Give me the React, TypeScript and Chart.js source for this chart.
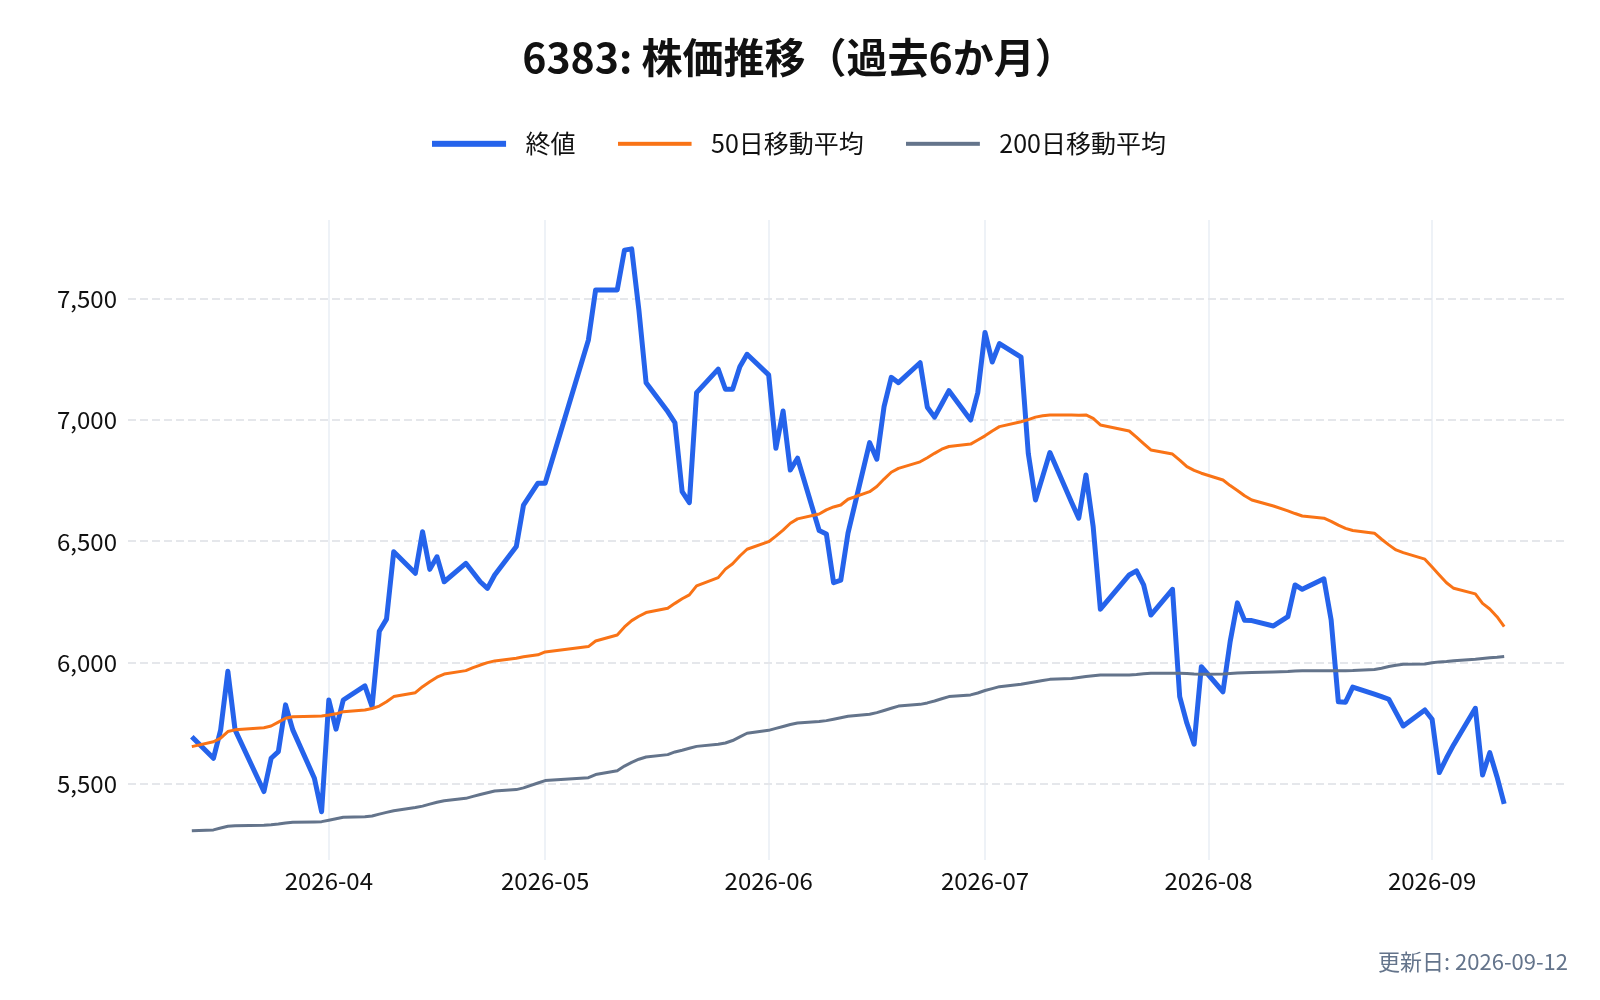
import { useEffect, useRef } from 'react';
import { Chart, registerables } from 'chart.js';

Chart.register(...registerables);

const titleText = '6383: 株価推移（過去6か月）';
const updatedText = '更新日: 2026-09-12';
const seriesLabels = ['終値', '50日移動平均', '200日移動平均'];
const seriesColors = ['#2563eb', '#f97316', '#64748b'];

const dates = [
  '2026-03-13', '2026-03-16', '2026-03-17', '2026-03-18', '2026-03-19', '2026-03-23', '2026-03-24', '2026-03-25', '2026-03-26', '2026-03-27', '2026-03-30', '2026-03-31',
  '2026-04-01', '2026-04-02', '2026-04-03', '2026-04-06', '2026-04-07', '2026-04-08', '2026-04-09', '2026-04-10', '2026-04-13', '2026-04-14', '2026-04-15', '2026-04-16', '2026-04-17', '2026-04-20', '2026-04-21', '2026-04-22', '2026-04-23', '2026-04-24', '2026-04-27', '2026-04-28', '2026-04-30',
  '2026-05-01', '2026-05-07', '2026-05-08', '2026-05-11', '2026-05-12', '2026-05-13', '2026-05-14', '2026-05-15', '2026-05-18', '2026-05-19', '2026-05-20', '2026-05-21', '2026-05-22', '2026-05-25', '2026-05-26', '2026-05-27', '2026-05-28', '2026-05-29',
  '2026-06-01', '2026-06-02', '2026-06-03', '2026-06-04', '2026-06-05', '2026-06-08', '2026-06-09', '2026-06-10', '2026-06-11', '2026-06-12', '2026-06-15', '2026-06-16', '2026-06-17', '2026-06-18', '2026-06-19', '2026-06-22', '2026-06-23', '2026-06-24', '2026-06-25', '2026-06-26', '2026-06-29', '2026-06-30',
  '2026-07-01', '2026-07-02', '2026-07-03', '2026-07-06', '2026-07-07', '2026-07-08', '2026-07-09', '2026-07-10', '2026-07-13', '2026-07-14', '2026-07-15', '2026-07-16', '2026-07-17', '2026-07-21', '2026-07-22', '2026-07-23', '2026-07-24', '2026-07-27', '2026-07-28', '2026-07-29', '2026-07-30', '2026-07-31',
  '2026-08-03', '2026-08-04', '2026-08-05', '2026-08-06', '2026-08-07', '2026-08-10', '2026-08-12', '2026-08-13', '2026-08-14', '2026-08-17', '2026-08-18', '2026-08-19', '2026-08-20', '2026-08-21', '2026-08-24', '2026-08-25', '2026-08-26', '2026-08-27', '2026-08-28', '2026-08-31',
  '2026-09-01', '2026-09-02', '2026-09-03', '2026-09-04', '2026-09-07', '2026-09-08', '2026-09-09', '2026-09-10', '2026-09-11',
];

const closePrices = [
  5696, 5607, 5724, 5965, 5724, 5470, 5607, 5634, 5827, 5724, 5525, 5387,
  5847, 5727, 5847, 5905, 5820, 6130, 6180, 6458, 6369, 6540, 6385, 6437, 6334, 6410, 6372, 6334, 6307, 6362, 6479, 6650, 6740,
  6740, 7330, 7536, 7536, 7700, 7705, 7453, 7154, 7035, 6989, 6705, 6660, 7113, 7210, 7127, 7127, 7220, 7271,
  7186, 6884, 7037, 6794, 6843, 6545, 6531, 6330, 6341, 6534, 6907, 6839, 7055, 7176, 7154, 7236, 7053, 7012, 7066, 7121, 7000, 7113,
  7361, 7239, 7315, 7259, 6863, 6671, 6768, 6866, 6661, 6596, 6774, 6561, 6221, 6362, 6379, 6321, 6197, 6303, 5861, 5751, 5665, 5984,
  5881, 6088, 6247, 6175, 6174, 6152, 6190, 6321, 6303, 6346, 6177, 5840, 5838, 5900, 5871, 5861, 5850, 5795, 5740, 5806,
  5768, 5548, 5608, 5663, 5813, 5538, 5630, 5531, 5419,
];

const ma50 = [
  5655, 5675, 5690, 5717, 5724, 5733, 5740, 5756, 5772, 5778, 5780, 5781,
  5785, 5790, 5799, 5806, 5812, 5822, 5840, 5861, 5877, 5902, 5922, 5941, 5954, 5968, 5980, 5991, 6001, 6008, 6019, 6025, 6033,
  6045, 6067, 6090, 6115, 6148, 6174, 6192, 6207, 6225, 6245, 6264, 6280, 6317, 6351, 6386, 6408, 6440, 6468,
  6499, 6522, 6547, 6575, 6593, 6613, 6630, 6642, 6650, 6674, 6705, 6726, 6757, 6785, 6801, 6828, 6845, 6863, 6880, 6891, 6901, 6918,
  6935, 6955, 6973, 6993, 7002, 7012, 7018, 7021, 7021, 7020, 7021, 7007, 6980, 6955, 6930, 6903, 6877, 6860, 6835, 6808, 6793, 6781,
  6753, 6730, 6710, 6688, 6671, 6646, 6626, 6615, 6605, 6596, 6583, 6567, 6554, 6545, 6534, 6509, 6486, 6465, 6454, 6427,
  6395, 6362, 6330, 6307, 6284, 6245, 6222, 6190, 6149,
];

const ma200 = [
  5308, 5312, 5320, 5327, 5329, 5331, 5333, 5336, 5340, 5343, 5345, 5346,
  5352, 5358, 5364, 5366, 5369, 5377, 5384, 5391, 5404, 5410, 5418, 5426, 5432, 5442, 5450, 5458, 5465, 5472, 5478, 5485, 5505,
  5515, 5527, 5540, 5556, 5575, 5590, 5603, 5612, 5622, 5633, 5640, 5648, 5656, 5665, 5670, 5680, 5695, 5710,
  5722, 5730, 5738, 5746, 5752, 5758, 5762, 5768, 5774, 5780, 5788, 5795, 5804, 5813, 5822, 5829, 5835, 5843, 5852, 5861, 5868, 5876,
  5886, 5894, 5902, 5912, 5917, 5922, 5927, 5932, 5936, 5940, 5944, 5947, 5950, 5950, 5952, 5955, 5957, 5957, 5957, 5956, 5954, 5953,
  5954, 5956, 5958, 5959, 5960, 5962, 5964, 5966, 5967, 5967, 5967, 5967, 5967, 5968, 5973, 5978, 5985, 5990, 5994, 5995,
  6000, 6004, 6006, 6009, 6015, 6018, 6021, 6023, 6026,
];

const monthTicks = ['2026-04-01', '2026-05-01', '2026-06-01', '2026-07-01', '2026-08-01', '2026-09-01'];
const yTicks = [5500, 6000, 6500, 7000, 7500];

const Y_MIN = 5188;
const Y_MAX = 7824;
const X_PAD_DAYS = 8.85;

const FONT = "'Noto Sans CJK JP', 'Noto Sans', sans-serif";

const dayNum = (s: string) => {
  const [y, m, d] = s.split('-').map(Number);
  return Date.UTC(y, m - 1, d) / 86400000;
};

const monthLabel = (v: number) => {
  const d = new Date(Math.round(v) * 86400000);
  return `${d.getUTCFullYear()}-${String(d.getUTCMonth() + 1).padStart(2, '0')}`;
};

const makeLegendLine = (color: string, width: number) => {
  const c = document.createElement('canvas');
  c.width = 81;
  c.height = 8;
  const ctx = c.getContext('2d')!;
  ctx.fillStyle = color;
  ctx.fillRect(0, (8 - width) / 2, 74, width);
  return c;
};

export default function App() {
  const ref = useRef<HTMLCanvasElement | null>(null);

  useEffect(() => {
    if (!ref.current) return;
    const xs = dates.map(dayNum);
    const toPts = (vals: number[]) => vals.map((v, i) => ({ x: xs[i], y: v }));
    const legendImgs = [
      makeLegendLine(seriesColors[0], 6),
      makeLegendLine(seriesColors[1], 4),
      makeLegendLine(seriesColors[2], 4),
    ];

    const chart = new Chart(ref.current, {
      type: 'line',
      data: {
        datasets: [
          {
            label: seriesLabels[0],
            data: toPts(closePrices),
            borderColor: seriesColors[0],
            backgroundColor: seriesColors[0],
            borderWidth: 5,
            pointRadius: 0,
            tension: 0,
            borderJoinStyle: 'round',
            order: 3,
            xAxisID: 'x',
            yAxisID: 'y',
          },
          {
            label: seriesLabels[1],
            data: toPts(ma50),
            borderColor: seriesColors[1],
            backgroundColor: seriesColors[1],
            borderWidth: 3,
            pointRadius: 0,
            tension: 0,
            borderJoinStyle: 'round',
            order: 2,
            xAxisID: 'x',
            yAxisID: 'y',
          },
          {
            label: seriesLabels[2],
            data: toPts(ma200),
            borderColor: seriesColors[2],
            backgroundColor: seriesColors[2],
            borderWidth: 3,
            pointRadius: 0,
            tension: 0,
            borderJoinStyle: 'round',
            order: 1,
            xAxisID: 'x',
            yAxisID: 'y',
          },
        ],
      },
      options: {
        responsive: false,
        maintainAspectRatio: false,
        animation: false,
        devicePixelRatio: 1,
        events: [],
        layout: { padding: { left: 30, right: 32, top: 0, bottom: 0 } },
        font: { family: FONT },
        scales: {
          x: {
            type: 'linear',
            position: 'bottom',
            min: xs[0] - X_PAD_DAYS,
            max: xs[xs.length - 1] + X_PAD_DAYS,
            afterBuildTicks: (scale: any) => {
              scale.ticks = monthTicks.map((s) => ({ value: dayNum(s) }));
            },
            afterFit: (scale: any) => {
              scale.height = 34.6;
            },
            ticks: {
              autoSkip: false,
              maxRotation: 0,
              padding: 6,
              color: '#111111',
              font: { family: FONT, size: 24 },
              callback: (v: any) => monthLabel(Number(v)),
            },
            grid: { color: '#eef2f7', lineWidth: 2, drawTicks: false },
            border: { display: false },
          },
          spacer: {
            type: 'linear',
            position: 'top',
            display: true,
            grid: { display: false },
            border: { display: false },
            ticks: { display: false },
            afterFit: (scale: any) => {
              scale.height = 53.7;
            },
          },
          y: {
            type: 'linear',
            position: 'left',
            min: Y_MIN,
            max: Y_MAX,
            afterBuildTicks: (scale: any) => {
              scale.ticks = yTicks.map((v) => ({ value: v }));
            },
            afterFit: (scale: any) => {
              scale.width = 98;
            },
            ticks: {
              autoSkip: false,
              padding: 11,
              color: '#111111',
              font: { family: FONT, size: 24 },
              callback: (v: any) => Number(v).toLocaleString('en-US'),
            },
            grid: { color: '#e5e7eb', lineWidth: 2, drawTicks: false },
            border: { display: false, dash: [8, 4] },
          },
        },
        plugins: {
          tooltip: { enabled: false },
          title: {
            display: true,
            text: titleText,
            color: '#111111',
            font: { family: FONT, size: 41, weight: 'bold' },
            padding: { top: 33, bottom: 7.1 },
          },
          subtitle: {
            display: true,
            text: updatedText,
            position: 'bottom',
            align: 'end',
            color: '#64748b',
            font: { family: FONT, size: 22 },
            padding: { top: 54, bottom: 25 },
          },
          legend: {
            display: true,
            position: 'top',
            labels: {
              usePointStyle: true,
              pointStyleWidth: 81,
              padding: 42,
              color: '#111111',
              font: { family: FONT, size: 25 },
              generateLabels: (c: any) =>
                c.data.datasets.map((ds: any, i: number) => ({
                  text: ds.label,
                  pointStyle: legendImgs[i],
                  fillStyle: ds.borderColor,
                  strokeStyle: ds.borderColor,
                  lineWidth: 0,
                  hidden: !c.isDatasetVisible(i),
                  datasetIndex: i,
                  fontColor: '#111111',
                })),
            },
          },
        },
      } as any,
    });

    return () => chart.destroy();
  }, []);

  return (
    <div style={{ position: 'absolute', left: 0, top: 0, width: 1600, height: 1000, background: '#ffffff' }}>
      <canvas ref={ref} width={1600} height={1000} style={{ width: 1600, height: 1000, display: 'block' }} />
    </div>
  );
}
